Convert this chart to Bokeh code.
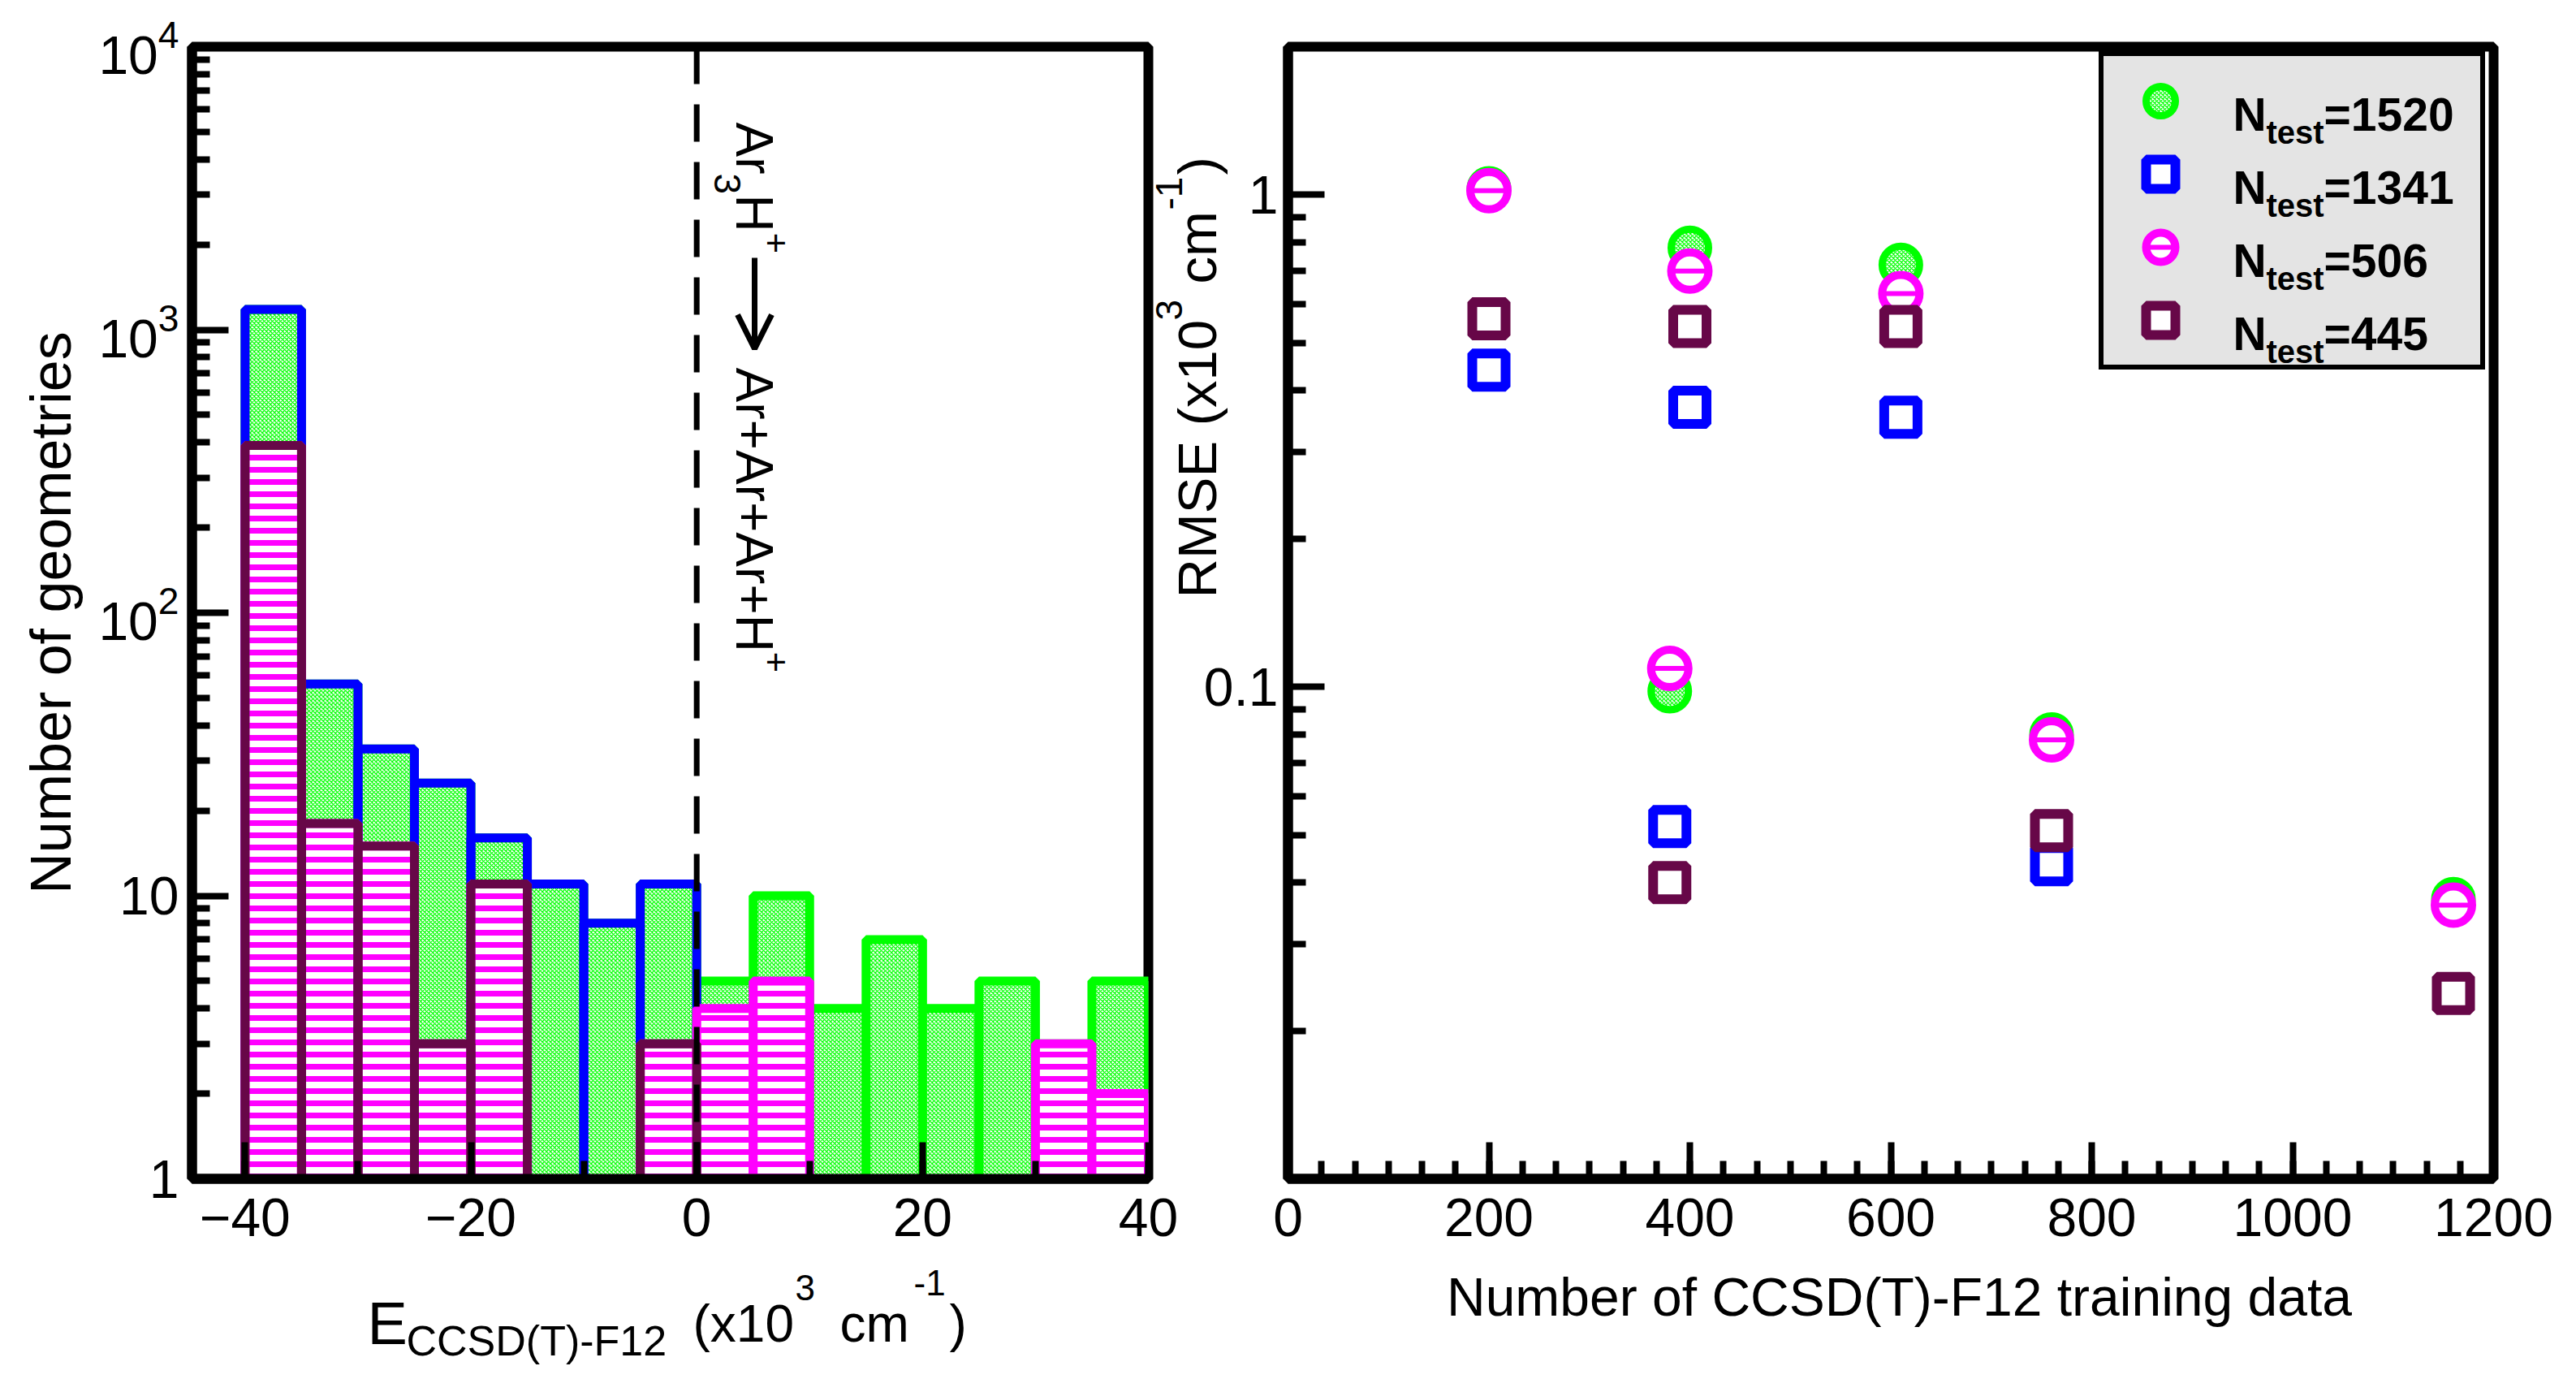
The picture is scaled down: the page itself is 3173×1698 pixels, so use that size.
import math
from bokeh.plotting import figure
from bokeh.layouts import row, column
from bokeh.models import (Range1d, FixedTicker, SingleIntervalTicker, LogTickFormatter,
                          NumeralTickFormatter, Label, Span, Arrow, OpenHead, Legend,
                          LegendItem, ColumnDataSource)
from bokeh.embed import file_html
from bokeh.resources import INLINE

# ---------------- data : left panel (histograms, bin width 5 x10^3 cm^-1) ----------------
bin_lo = [-40, -35, -30, -25, -20, -15, -10, -5, 0, 5, 10, 15, 20, 25, 30, 35]
bin_hi = [-35, -30, -25, -20, -15, -10, -5, 0, 5, 10, 15, 20, 25, 30, 35, 40]
count_1520 = [1180, 56, 33, 25, 16, 11, 8, 11, 5, 10, 4, 7, 4, 5, 3, 5]
count_1341 = [1180, 56, 33, 25, 16, 11, 8, 11, 0, 0, 0, 0, 0, 0, 0, 0]
count_506 = [390, 18, 15, 3, 11, 0, 0, 3, 4, 5, 0, 0, 0, 0, 3, 2]
count_445 = [390, 18, 15, 3, 11, 0, 0, 3, 0, 0, 0, 0, 0, 0, 0, 0]

# ---------------- data : right panel (RMSE vs training size) ----------------
ntrain_1520 = [200, 380, 400, 610, 760, 1160]
rmse_1520 = [1.03, 0.098, 0.78, 0.72, 0.080, 0.037]
ntrain_1341 = [200, 380, 400, 610, 760]
rmse_1341 = [0.44, 0.052, 0.37, 0.353, 0.0435]
ntrain_506 = [200, 380, 400, 610, 760, 1160]
rmse_506 = [1.02, 0.109, 0.70, 0.63, 0.078, 0.036]
ntrain_445 = [200, 380, 400, 610, 760, 1160]
rmse_445 = [0.56, 0.040, 0.54, 0.54, 0.051, 0.0238]

legend_values = ["=1520", "=1341", "=506", "=445"]

GREEN = "#00ff00"
BLUE = "#0000ff"
MAGENTA = "#ff00ff"
MAROON = "#670748"
FONT = "Liberation Sans"

# ---------------- geometry (page pixels) ----------------
PAGE_W, PAGE_H = 3157, 1680
FRAME_TOP = 65
FRAME_H = 1394
FRAME_BOTTOM = FRAME_TOP + FRAME_H
L1_LEFT, L1_W = 244, 1178
P1_RIGHT_BORDER = 40
P1_WIDTH = (L1_LEFT - 8) + L1_W + P1_RIGHT_BORDER
L2_LEFT, L2_W = 1594, 1485
P2_LEFT_BORDER = L2_LEFT - (8 + P1_WIDTH)
P2_RIGHT_BORDER = (8 + PAGE_W) - (L2_LEFT + L2_W)
BOTTOM_BORDER = PAGE_H - (FRAME_TOP - 8) - FRAME_H


def style_axis(ax, standoff):
    ax.axis_line_width = 12
    ax.axis_line_color = "black"
    ax.major_tick_line_width = 8
    ax.minor_tick_line_width = 8
    ax.major_tick_in = 45
    ax.major_tick_out = 0
    ax.minor_tick_in = 22
    ax.minor_tick_out = 0
    ax.major_label_text_font_size = "66px"
    ax.major_label_text_font = FONT
    ax.major_label_text_color = "black"
    ax.major_label_standoff = standoff


def new_panel(frame_left_border, frame_w, right_border, xr, yr):
    p = figure(frame_width=frame_w, frame_height=FRAME_H, x_range=xr, y_range=yr,
               y_axis_type="log", min_border_left=frame_left_border,
               min_border_right=right_border, min_border_top=FRAME_TOP - 8,
               min_border_bottom=BOTTOM_BORDER, output_backend="svg", toolbar_location=None)
    p.xgrid.visible = False
    p.ygrid.visible = False
    p.outline_line_color = "black"
    p.outline_line_width = 12
    p.background_fill_color = "white"
    p.border_fill_color = "white"
    return p


# ======================= left panel =======================
p1 = new_panel(L1_LEFT - 8, L1_W, P1_RIGHT_BORDER, Range1d(-44.7, 40), Range1d(1, 1e4))

base = 1.0


def bars(counts):
    keep = [i for i, c in enumerate(counts) if c > 0]
    return ColumnDataSource(dict(left=[bin_lo[i] for i in keep], right=[bin_hi[i] for i in keep],
                                 top=[counts[i] for i in keep], bottom=[base for _ in keep]))


p1.quad(left="left", right="right", top="top", bottom="bottom", source=bars(count_1520),
        fill_color="white", hatch_pattern="diagonal_cross", hatch_color=GREEN,
        hatch_scale=5, hatch_weight=1.3, line_color=GREEN, line_width=11)
p1.quad(left="left", right="right", top="top", bottom="bottom", source=bars(count_1341),
        fill_alpha=0, line_color=BLUE, line_width=11)
p1.quad(left="left", right="right", top="top", bottom="bottom", source=bars(count_506),
        fill_color="white", hatch_pattern="horizontal_line", hatch_color=MAGENTA,
        hatch_scale=15, hatch_weight=7, line_color=MAGENTA, line_width=11)
p1.quad(left="left", right="right", top="top", bottom="bottom", source=bars(count_445),
        fill_alpha=0, line_color=MAROON, line_width=11)

p1.add_layout(Span(location=0, dimension="height", line_color="black", line_width=7,
                   line_dash="46 25"))

p1.xaxis.ticker = SingleIntervalTicker(interval=20, num_minor_ticks=2)
p1.yaxis.ticker = FixedTicker(ticks=[1, 10, 100, 1000, 10000],
                              minor_ticks=[m * 10 ** d for d in range(4) for m in range(2, 10)])
p1.yaxis.formatter = LogTickFormatter(min_exponent=2)
style_axis(p1.xaxis[0], 24)
style_axis(p1.yaxis[0], 16)

# ======================= right panel =======================
p2 = new_panel(P2_LEFT_BORDER, L2_W, P2_RIGHT_BORDER, Range1d(0, 1200), Range1d(0.01, 2))

r_g = p2.scatter(ntrain_1520, rmse_1520, marker="circle", size=46, line_width=9, line_color=GREEN,
                 fill_color="white", hatch_pattern="diagonal_cross", hatch_color=GREEN,
                 hatch_scale=5, hatch_weight=1.3)
r_b = p2.scatter(ntrain_1341, rmse_1341, marker="square", size=41, line_width=12, line_color=BLUE,
                 fill_color="white")
r_m = p2.scatter(ntrain_506, rmse_506, marker="circle", size=46, line_width=10, line_color=MAGENTA,
                 fill_color="white")
r_md = p2.scatter(ntrain_506, rmse_506, marker="dash", size=40, line_width=6, line_color=MAGENTA)
r_p = p2.scatter(ntrain_445, rmse_445, marker="square", size=41, line_width=12, line_color=MAROON,
                 fill_color="white")

p2.xaxis.ticker = SingleIntervalTicker(interval=200, num_minor_ticks=6)
p2.yaxis.ticker = FixedTicker(ticks=[0.1, 1],
                              minor_ticks=[m * 10 ** d for d in (-2, -1, 0) for m in range(2, 10)])
p2.yaxis.formatter = NumeralTickFormatter(format="0.[0]")
style_axis(p2.xaxis[0], 24)
style_axis(p2.yaxis[0], 12)

LEG_LEFT, LEG_TOP, LEG_PAD, GLYPH_W, GLYPH_H = 2593, 83, 10, 120, 90
legend = Legend(items=[LegendItem(label=" ", renderers=[r_g]),
                       LegendItem(label=" ", renderers=[r_b]),
                       LegendItem(label=" ", renderers=[r_m, r_md]),
                       LegendItem(label=" ", renderers=[r_p])],
                location=(LEG_LEFT - L2_LEFT, FRAME_BOTTOM - (LEG_TOP + 2 * LEG_PAD + 4 * GLYPH_H)),
                orientation="vertical", glyph_width=GLYPH_W, glyph_height=GLYPH_H,
                label_width=285, label_height=GLYPH_H, label_standoff=39, spacing=0,
                padding=LEG_PAD, margin=0, border_line_color="black", border_line_width=6,
                border_line_alpha=1.0, background_fill_color="#e4e4e4",
                background_fill_alpha=1.0, label_text_font_size="10px")
p2.add_layout(legend)

# ======================= text overlay (page-pixel coordinates) =======================
ov = figure(frame_width=PAGE_W, frame_height=PAGE_H, x_range=Range1d(0, PAGE_W),
            y_range=Range1d(PAGE_H, 0), min_border=0, x_axis_location=None,
            y_axis_location=None, output_backend="svg", toolbar_location=None)
ov.xgrid.visible = False
ov.ygrid.visible = False
ov.outline_line_color = None
ov.background_fill_alpha = 0
ov.border_fill_alpha = 0
ov.margin = (-PAGE_H, 0, 0, 0)

MID = 0.3465  # baseline -> middle of the text box, in em (Liberation Sans)


def put(px, py, text, size, align="left", bold=False):
    """horizontal text, (px, py) = start (or centre) of the baseline"""
    ov.add_layout(Label(x=px - 8, y=py - 8, text=text, text_font=FONT,
                        text_font_size=f"{size}px",
                        text_font_style="bold" if bold else "normal",
                        text_align=align, text_baseline="alphabetic", text_color="black"))


def put_up(bx, py, text, size, align="left"):
    """text reading bottom->top; bx = x of its baseline"""
    ov.add_layout(Label(x=bx - MID * size - 8, y=py - 8, text=text, text_font=FONT,
                        text_font_size=f"{size}px", text_align=align,
                        text_baseline="middle", angle=math.pi / 2, text_color="black"))


def put_down(bx, py, text, size):
    """text reading top->bottom; bx = x of its baseline"""
    ov.add_layout(Label(x=bx + MID * size - 8, y=py - 8, text=text, text_font=FONT,
                        text_font_size=f"{size}px", text_align="left",
                        text_baseline="middle", angle=-math.pi / 2, text_color="black"))


# left y label
put_up(95, 762, "Number of geometries", 70, align="center")
# left x label  E_CCSD(T)-F12 (x10^3 cm^-1)
put(460, 1637, "E", 74)
put(508, 1658, "CCSD(T)-F12", 52)
put(861, 1637, "(x10", 64)
put(987, 1593, "3", 44)
put(1042, 1637, "cm", 64)
put(1133, 1587, "-1", 44)
put(1177, 1637, ")", 64)
# rotated reaction text  Ar3H+ -> Ar+Ar+Ar+H+
RB = 914
put_down(RB, 158, "Ar", 64)
put_down(RB - 26, 221, "3", 46)
put_down(RB, 247, "H", 64)
put_down(RB + 35, 294, "+", 44)
put_down(RB, 460, "Ar+Ar+Ar+H", 64)
put_down(RB + 35, 810, "+", 44)
ov.add_layout(Arrow(end=OpenHead(size=42, line_width=7, line_color="black"),
                    x_start=937 - 8, y_start=325 - 8, x_end=937 - 8, y_end=437 - 8,
                    line_width=7, line_color="black"))

# legend texts  N_test=...
for i, val in enumerate(legend_values):
    cy = LEG_TOP + LEG_PAD + GLYPH_H / 2 + i * GLYPH_H
    put(2758, cy + 10, "N", 57, bold=True)
    put(2799, cy + 32, "test", 40, bold=True)
    put(2870, cy + 10, val, 57, bold=True)

# RMSE (x10^3 cm^-1), rotated
BX = 1505
put_up(BX, 744, "RMSE (x10", 67)
put_up(BX - 42, 402, "3", 46)
put_up(BX, 357, "cm", 67)
put_up(BX - 42, 266, "-1", 46)
put_up(BX, 223, ")", 67)
# right x label
put(2347, 1604, "Number of CCSD(T)-F12 training data", 66, align="center")

layout = column(row(p1, p2), ov)
open("out.html", "w").write(file_html(layout, INLINE))
